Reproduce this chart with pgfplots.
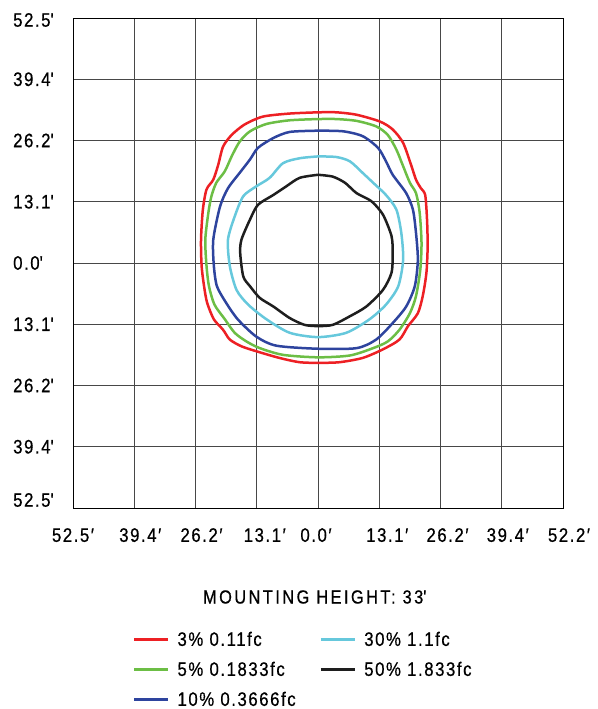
\documentclass[border=0pt]{standalone}
\usepackage{fontspec}
\setmainfont{Liberation Sans}[FakeStretch=0.86, LetterSpace=8, FakeBold=0.6]
\usepackage{pgfplots}
\pgfplotsset{compat=1.18}
\definecolor{cred}{RGB}{237,32,36}
\definecolor{cgreen}{RGB}{108,190,69}
\definecolor{cblue}{RGB}{46,68,158}
\definecolor{ccyan}{RGB}{102,200,220}
\definecolor{cblack}{RGB}{30,30,30}
\newcommand{\q}{\textquotesingle}
\newcommand{\xl}[2]{\hbox to 0pt{\hss\hskip #1bp\relax #2\hss}}
\begin{document}
\begin{tikzpicture}[x=1bp,y=1bp]
\useasboundingbox (0,0) rectangle (598,709);
\begin{axis}[
  at={(73bp,201bp)}, anchor=south west,
  width=490bp, height=490bp, scale only axis,
  xmin=-4, xmax=4, ymin=-4, ymax=4,
  xtick={-4,-3,-2,-1,0,1,2,3,4}, ytick={-4,-3,-2,-1,0,1,2,3,4},
  grid=major, major grid style={black!72, line width=0.8bp},
  major tick length=0pt,
  axis line style={black, line width=0.9bp},
  font=\fontsize{19.5bp}{21bp}\selectfont,
  xticklabels={\xl{0}{52.5′},\xl{12}{39.4′},\xl{12}{26.2′},\xl{16}{13.1′},\xl{-4}{0.0′},\xl{16}{13.1′},\xl{14}{26.2′},\xl{12}{39.4′},\xl{12}{52.2′}},
  yticklabels={\raisebox{8bp}[\height][\depth]{52.5\q},39.4\q,26.2\q,13.1\q,0.0\q,13.1\q,26.2\q,39.4\q,\raisebox{-2bp}[\height][\depth]{52.5\q}},
  xticklabel style={anchor=north, inner sep=0pt, yshift=-20bp},
  yticklabel style={anchor=west, inner sep=0pt, xshift=-60bp},
  xlabel={\addfontfeature{LetterSpace=13}MOUNTING HEIGHT: 33\q},
  xlabel style={at={(axis description cs:0.5,0)}, anchor=center, yshift=-89bp, xshift=-3bp, font=\fontsize{19bp}{21bp}\selectfont},
  legend columns=2,
  legend cell align=left,
  legend image code/.code={\draw[#1, line width=2.6bp] (0bp,0bp) -- (34bp,0bp);},
  legend style={at={(axis cs:-3.025,-5.9)}, anchor=north west, draw=none, fill=none,
    inner sep=0pt, font=\fontsize{19.5bp}{21bp}\selectfont,
    nodes={inner sep=0pt, minimum height=30bp},
    column sep=8bp,
    /tikz/every even column/.append style={column sep=24bp}},
  every axis plot/.append style={line width=2.5bp, smooth, tension=0.45},
]
\addplot[cred] coordinates {
(0,2.46) (-0.46,2.44) (-0.90,2.39) (-1.20,2.26) (-1.41,2.09) (-1.55,1.90) (-1.63,1.60) (-1.71,1.36) (-1.82,1.20) (-1.88,0.87) (-1.91,0.38) (-1.90,-0.05) (-1.86,-0.38) (-1.81,-0.65) (-1.70,-0.92) (-1.55,-1.09) (-1.44,-1.25) (-1.25,-1.36) (-1.01,-1.44) (-0.63,-1.55) (-0.30,-1.62) (0,-1.63) (0.35,-1.62) (0.73,-1.55) (1.06,-1.41) (1.33,-1.25) (1.47,-1.03) (1.63,-0.82) (1.71,-0.54) (1.77,-0.16) (1.79,0.27) (1.78,0.71) (1.75,1.11) (1.68,1.22) (1.60,1.36) (1.52,1.60) (1.39,1.96) (1.22,2.18) (1.01,2.31) (0.63,2.42) (0.30,2.46) (0,2.46)
};
\addlegendentry{3\% 0.11fc}
\addplot[ccyan] coordinates {
(0,1.74) (-0.30,1.71) (-0.57,1.63) (-0.79,1.39) (-1.01,1.25) (-1.22,1.09) (-1.36,0.76) (-1.47,0.38) (-1.44,-0.05) (-1.33,-0.44) (-1.14,-0.68) (-0.84,-0.92) (-0.46,-1.14) (0,-1.21) (0.46,-1.14) (0.84,-0.92) (1.11,-0.68) (1.31,-0.38) (1.39,0.05) (1.36,0.49) (1.28,0.87) (1.11,1.11) (0.90,1.31) (0.73,1.47) (0.52,1.66) (0.30,1.73) (0,1.74)
};
\addlegendentry{30\% 1.1fc}
\addplot[cgreen] coordinates {
(0,2.35) (-0.46,2.33) (-0.84,2.27) (-1.11,2.15) (-1.28,1.98) (-1.41,1.74) (-1.52,1.50) (-1.66,1.31) (-1.74,1.09) (-1.79,0.82) (-1.84,0.38) (-1.82,-0.05) (-1.78,-0.38) (-1.69,-0.68) (-1.52,-0.92) (-1.36,-1.14) (-1.17,-1.28) (-0.95,-1.39) (-0.57,-1.50) (0,-1.54) (0.52,-1.51) (0.90,-1.39) (1.14,-1.28) (1.33,-1.09) (1.50,-0.82) (1.60,-0.54) (1.67,-0.11) (1.69,0.33) (1.66,0.82) (1.60,1.14) (1.50,1.31) (1.39,1.58) (1.28,1.85) (1.14,2.09) (0.95,2.23) (0.63,2.32) (0.30,2.35) (0,2.35)
};
\addlegendentry{5\% 0.1833fc}
\addplot[cblack] coordinates {
(0,1.44) (-0.30,1.39) (-0.52,1.25) (-0.73,1.11) (-0.98,0.95) (-1.11,0.71) (-1.25,0.38) (-1.27,0.16) (-1.22,-0.22) (-1.11,-0.38) (-0.95,-0.57) (-0.73,-0.71) (-0.46,-0.90) (-0.22,-1.01) (0,-1.03) (0.24,-1.01) (0.52,-0.87) (0.79,-0.71) (1.06,-0.44) (1.20,-0.16) (1.22,0.16) (1.20,0.44) (1.06,0.79) (0.87,1.01) (0.63,1.14) (0.44,1.31) (0.24,1.41) (0,1.44)
};
\addlegendentry{50\% 1.833fc}
\addplot[cblue] coordinates {
(0,2.16) (-0.46,2.14) (-0.73,2.04) (-0.98,1.88) (-1.11,1.69) (-1.28,1.47) (-1.47,1.22) (-1.60,0.92) (-1.71,0.38) (-1.70,-0.05) (-1.65,-0.38) (-1.50,-0.65) (-1.31,-0.92) (-1.01,-1.20) (-0.68,-1.35) (0,-1.40) (0.63,-1.39) (0.95,-1.25) (1.22,-0.98) (1.44,-0.71) (1.58,-0.38) (1.63,0.05) (1.60,0.49) (1.55,0.87) (1.44,1.14) (1.22,1.44) (1.11,1.66) (0.98,1.88) (0.73,2.07) (0.41,2.15) (0,2.16)
};
\addlegendentry{10\% 0.3666fc}
\end{axis}
\end{tikzpicture}
\end{document}
